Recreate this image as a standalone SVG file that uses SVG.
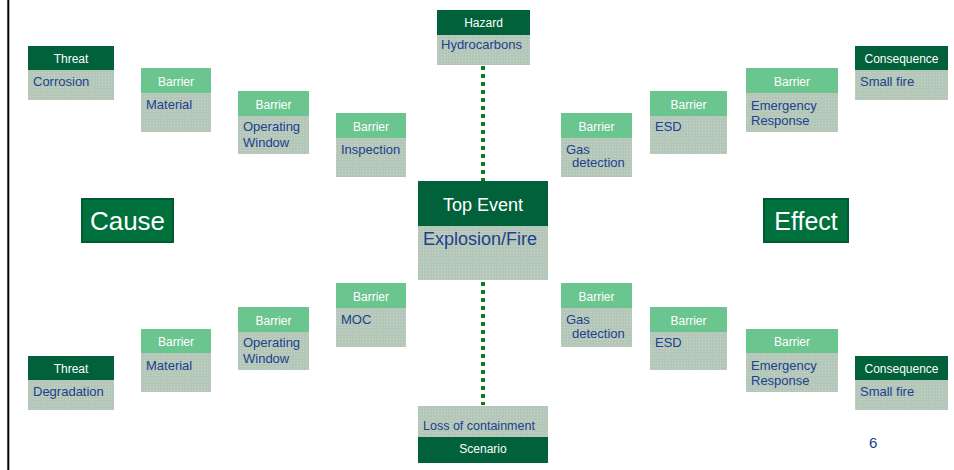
<svg xmlns="http://www.w3.org/2000/svg" width="954" height="470" viewBox="0 0 954 470">
<defs>
<pattern id="stip" width="3" height="3" patternUnits="userSpaceOnUse">
<rect width="3" height="3" fill="#B5C8B9"/>
<rect x="0" y="0" width="1" height="1" fill="#C3D3C7"/>
<rect x="1.5" y="1.5" width="1" height="1" fill="#ADC1B1"/>
</pattern>
<style>
.body{fill:url(#stip);}
.dark{fill:#00613A;}
.light{fill:#6BC58E;}
.ht{font-family:"Liberation Sans",Arial,sans-serif;font-size:12px;fill:#ffffff;text-anchor:middle;}
.bt{font-family:"Liberation Sans",Arial,sans-serif;font-size:13px;fill:#21408F;}
.big{font-family:"Liberation Sans",Arial,sans-serif;fill:#ffffff;text-anchor:middle;}
.conn{stroke:#0B7A1E;stroke-width:4;stroke-dasharray:4 4;fill:none;}
</style>
</defs>
<rect width="954" height="470" fill="#ffffff"/>
<line x1="8.3" y1="0" x2="8.3" y2="470" stroke="#000000" stroke-width="2"/>

<g id="connectors">
<line class="conn" x1="483" y1="66" x2="483" y2="181"/>
<line class="conn" x1="483" y1="282" x2="483" y2="405"/>
</g>

<g id="hazard">
<rect class="dark" x="437" y="10" width="93" height="25"/>
<rect class="body" x="437" y="35" width="93" height="30"/>
<text class="ht" x="483.5" y="27">Hazard</text>
<text class="bt" x="441" y="49">Hydrocarbons</text>
</g>

<g id="top-event">
<rect class="dark" x="418" y="181" width="130" height="45"/>
<rect class="body" x="418" y="226" width="130" height="54"/>
<text class="big" x="483" y="211" style="font-size:18px">Top Event</text>
<text class="bt" x="423" y="245" style="font-size:18px">Explosion/Fire</text>
</g>

<g id="scenario">
<rect class="body" x="418" y="406" width="130" height="31"/>
<rect class="dark" x="418" y="437" width="130" height="26"/>
<text class="bt" x="423" y="430" style="font-size:12.5px">Loss of containment</text>
<text class="ht" x="483" y="453">Scenario</text>
</g>

<g id="cause">
<rect x="82" y="199" width="91" height="43" fill="#00703D" stroke="#005A2F" stroke-width="2"/>
<text class="big" x="127.5" y="230" style="font-size:26px">Cause</text>
</g>

<g id="effect">
<rect x="764" y="199" width="84" height="43" fill="#00703D" stroke="#005A2F" stroke-width="2"/>
<text class="big" x="806" y="230" style="font-size:25px">Effect</text>
</g>

<g id="threat-corrosion">
<rect class="dark" x="28" y="46" width="86" height="24"/>
<rect class="body" x="28" y="70" width="86" height="30"/>
<text class="ht" x="71" y="63">Threat</text>
<text class="bt" x="33" y="86">Corrosion</text>
</g>

<g id="barrier-material-top">
<rect class="light" x="141" y="68" width="70" height="25"/>
<rect class="body" x="141" y="93" width="70" height="39"/>
<text class="ht" x="176" y="86">Barrier</text>
<text class="bt" x="146" y="109">Material</text>
</g>

<g id="barrier-operating-top">
<rect class="light" x="238" y="91" width="71" height="25"/>
<rect class="body" x="238" y="116" width="71" height="38"/>
<text class="ht" x="273.5" y="109">Barrier</text>
<text class="bt" x="243" y="131">Operating</text>
<text class="bt" x="243" y="147">Window</text>
</g>

<g id="barrier-inspection">
<rect class="light" x="336" y="113" width="70" height="25"/>
<rect class="body" x="336" y="138" width="70" height="39"/>
<text class="ht" x="371" y="131">Barrier</text>
<text class="bt" x="341" y="154">Inspection</text>
</g>

<g id="barrier-gas-top">
<rect class="light" x="561" y="113" width="71" height="25"/>
<rect class="body" x="561" y="138" width="71" height="39"/>
<text class="ht" x="596.5" y="131">Barrier</text>
<text class="bt" x="566" y="154">Gas</text>
<text class="bt" x="572" y="167">detection</text>
</g>

<g id="barrier-esd-top">
<rect class="light" x="650" y="91" width="77" height="25"/>
<rect class="body" x="650" y="116" width="77" height="38"/>
<text class="ht" x="688.5" y="109">Barrier</text>
<text class="bt" x="655" y="131">ESD</text>
</g>

<g id="barrier-emergency-top">
<rect class="light" x="746" y="68" width="92" height="25"/>
<rect class="body" x="746" y="93" width="92" height="39"/>
<text class="ht" x="792" y="86">Barrier</text>
<text class="bt" x="751" y="110">Emergency</text>
<text class="bt" x="751" y="125">Response</text>
</g>

<g id="consequence-top">
<rect class="dark" x="855" y="46" width="93" height="24"/>
<rect class="body" x="855" y="70" width="93" height="30"/>
<text class="ht" x="901.5" y="63">Consequence</text>
<text class="bt" x="860" y="86">Small fire</text>
</g>

<g id="threat-degradation">
<rect class="dark" x="28" y="356" width="86" height="24"/>
<rect class="body" x="28" y="380" width="86" height="30"/>
<text class="ht" x="71" y="373">Threat</text>
<text class="bt" x="33" y="396">Degradation</text>
</g>

<g id="barrier-material-bottom">
<rect class="light" x="141" y="329" width="70" height="24"/>
<rect class="body" x="141" y="353" width="70" height="39"/>
<text class="ht" x="176" y="346">Barrier</text>
<text class="bt" x="146" y="370">Material</text>
</g>

<g id="barrier-operating-bottom">
<rect class="light" x="238" y="307" width="71" height="25"/>
<rect class="body" x="238" y="332" width="71" height="38"/>
<text class="ht" x="273.5" y="325">Barrier</text>
<text class="bt" x="243" y="347">Operating</text>
<text class="bt" x="243" y="363">Window</text>
</g>

<g id="barrier-moc">
<rect class="light" x="336" y="283" width="70" height="25"/>
<rect class="body" x="336" y="308" width="70" height="39"/>
<text class="ht" x="371" y="301">Barrier</text>
<text class="bt" x="341" y="324">MOC</text>
</g>

<g id="barrier-gas-bottom">
<rect class="light" x="561" y="283" width="71" height="25"/>
<rect class="body" x="561" y="308" width="71" height="39"/>
<text class="ht" x="596.5" y="301">Barrier</text>
<text class="bt" x="566" y="324">Gas</text>
<text class="bt" x="572" y="338">detection</text>
</g>

<g id="barrier-esd-bottom">
<rect class="light" x="650" y="307" width="77" height="25"/>
<rect class="body" x="650" y="332" width="77" height="38"/>
<text class="ht" x="688.5" y="325">Barrier</text>
<text class="bt" x="655" y="347">ESD</text>
</g>

<g id="barrier-emergency-bottom">
<rect class="light" x="746" y="329" width="92" height="24"/>
<rect class="body" x="746" y="353" width="92" height="39"/>
<text class="ht" x="792" y="346">Barrier</text>
<text class="bt" x="751" y="370">Emergency</text>
<text class="bt" x="751" y="385">Response</text>
</g>

<g id="consequence-bottom">
<rect class="dark" x="855" y="356" width="93" height="24"/>
<rect class="body" x="855" y="380" width="93" height="30"/>
<text class="ht" x="901.5" y="373">Consequence</text>
<text class="bt" x="860" y="396">Small fire</text>
</g>

<text x="869" y="448" font-family="'Liberation Sans',Arial,sans-serif" font-size="15" fill="#21408F">6</text>
</svg>
